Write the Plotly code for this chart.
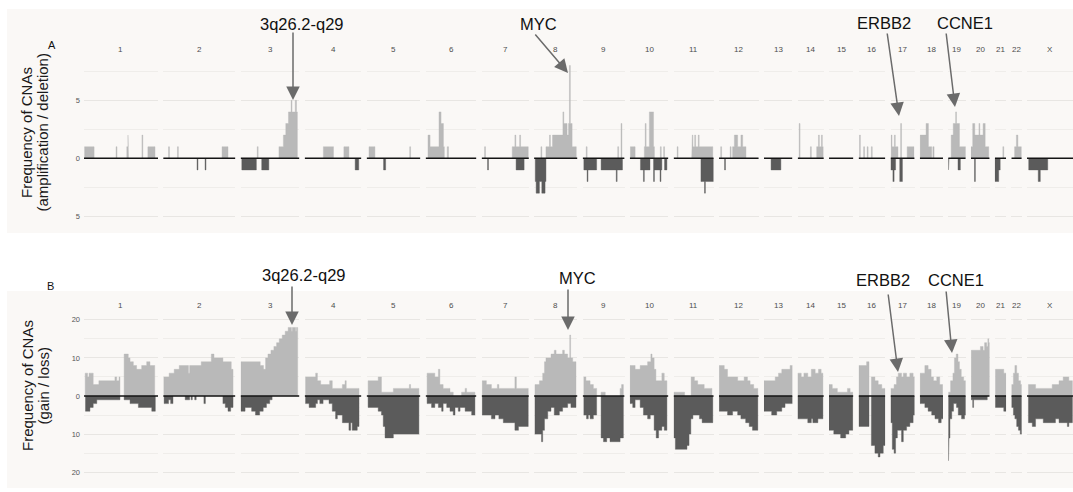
import plotly.graph_objects as go

# ---------------------------------------------------------------- data
CHROMS = ["1", "2", "3", "4", "5", "6", "7", "8", "9", "10", "11", "12",
          "13", "14", "15", "16", "17", "18", "19", "20", "21", "22", "X"]
# plotted extent of every chromosome (Mb)
CHROM_START = [0, 0, 0, 0, 0, 0, 0, 0, 0, 0, 0, 0, 19, 19, 20, 0, 0, 0, 0, 0, 10, 16, 0]
CHROM_END = [249, 243, 198, 191, 181, 171, 159, 146, 141, 130, 135, 134,
             115, 107, 102, 90, 81, 78, 59, 63, 48, 51, 155]

# Panel A - number of cases with amplification / deletion (chrom, start Mb, end Mb, count)
AMPLIFICATIONS = [
    ("1", 2, 34, 1), ("1", 108, 111, 1), ("1", 144, 148, 1), ("1", 148, 150, 2),
    ("1", 195, 198, 2), ("1", 215, 239, 1),
    ("2", 18, 21, 1), ("2", 48, 51, 1), ("2", 198, 218, 1),
    ("3", 56, 59, 1), ("3", 129, 144, 1), ("3", 144, 152, 2), ("3", 152, 161, 3),
    ("3", 161, 170, 4), ("3", 170, 173, 5), ("3", 173, 184, 4), ("3", 184, 188, 5),
    ("3", 188, 191, 4),
    ("4", 63, 97, 1), ("4", 132, 149, 1),
    ("5", 8, 28, 1), ("5", 145, 148, 1),
    ("6", 8, 15, 2), ("6", 15, 45, 1), ("6", 45, 52, 4), ("6", 52, 60, 3),
    ("6", 60, 63, 1), ("6", 73, 77, 1),
    ("7", 10, 13, 1), ("7", 103, 112, 1), ("7", 112, 115, 2), ("7", 115, 128, 1),
    ("7", 128, 131, 2), ("7", 131, 157, 1),
    ("8", 23, 26, 1), ("8", 40, 52, 1), ("8", 52, 55, 2), ("8", 55, 62, 1),
    ("8", 62, 97, 2), ("8", 97, 100, 4), ("8", 100, 111, 3), ("8", 111, 116, 2),
    ("8", 116, 119, 3), ("8", 119, 122, 8), ("8", 122, 128, 3), ("8", 128, 142, 1),
    ("9", 12, 15, 1), ("9", 118, 121, 1), ("9", 129, 132, 3),
    ("10", 2, 18, 1), ("10", 49, 52, 1), ("10", 52, 55, 3), ("10", 55, 66, 1),
    ("10", 66, 80, 4), ("10", 80, 83, 1), ("10", 103, 106, 1), ("10", 114, 117, 1),
    ("11", 12, 15, 1), ("11", 61, 63, 1), ("11", 63, 65, 2), ("11", 65, 71, 1),
    ("11", 71, 74, 2), ("11", 74, 83, 1), ("11", 83, 86, 2), ("11", 86, 132, 1),
    ("12", 6, 9, 1), ("12", 38, 41, 1), ("12", 46, 52, 1), ("12", 52, 63, 2),
    ("12", 63, 74, 1), ("12", 74, 80, 2), ("12", 80, 91, 1),
    ("14", 24, 27, 3), ("14", 62, 65, 1), ("14", 83, 89, 1), ("14", 89, 92, 2),
    ("14", 92, 99, 1), ("14", 99, 102, 2), ("14", 102, 105, 1),
    ("16", 3, 6, 2), ("16", 17, 20, 1), ("16", 29, 32, 1), ("16", 43, 46, 1),
    ("17", 2, 5, 2), ("17", 5, 13, 1), ("17", 13, 16, 2), ("17", 16, 25, 1),
    ("17", 34, 37, 3), ("17", 56, 79, 1),
    ("18", 1, 21, 2), ("18", 21, 29, 3), ("18", 29, 40, 1), ("18", 44, 48, 1),
    ("19", 10, 17, 2), ("19", 17, 25, 3), ("19", 25, 28, 4), ("19", 28, 38, 3),
    ("19", 38, 59, 1),
    ("20", 0, 6, 1), ("20", 6, 13, 3), ("20", 13, 27, 2), ("20", 27, 30, 3),
    ("20", 30, 41, 2), ("20", 41, 48, 3), ("20", 48, 60, 1),
    ("21", 37, 40, 1),
    ("22", 27, 33, 1), ("22", 33, 38, 2), ("22", 38, 50, 1),
]
DELETIONS = [
    ("2", 114, 117, 1), ("2", 141, 144, 1),
    ("3", 4, 53, 1), ("3", 71, 95, 1),
    ("4", 170, 182, 1),
    ("5", 57, 64, 1),
    ("7", 20, 23, 1), ("7", 116, 143, 1),
    ("8", 4, 7, 2), ("8", 7, 18, 3), ("8", 18, 26, 2), ("8", 26, 37, 3), ("8", 37, 40, 2),
    ("9", 4, 15, 1), ("9", 15, 18, 2), ("9", 18, 47, 1), ("9", 62, 113, 1),
    ("9", 113, 116, 2), ("9", 116, 134, 1),
    ("10", 36, 46, 1), ("10", 46, 49, 2), ("10", 49, 68, 1), ("10", 80, 83, 2),
    ("10", 83, 102, 1), ("10", 102, 105, 2), ("10", 105, 108, 1), ("10", 117, 125, 1),
    ("11", 92, 104, 2), ("11", 104, 107, 3), ("11", 107, 134, 2),
    ("12", 19, 22, 1),
    ("13", 43, 76, 1),
    ("17", 1, 8, 1), ("17", 8, 12, 2), ("17", 12, 17, 1), ("17", 31, 40, 2),
    ("19", 1, 3, 1), ("19", 33, 41, 1),
    ("20", 12, 15, 2),
    ("21", 10, 23, 2), ("21", 23, 28, 1),
    ("X", 6, 38, 1), ("X", 38, 45, 2), ("X", 45, 70, 1),
]

# Panel B - number of cases with copy-number gain / loss (chrom, start Mb, end Mb, count)
GAINS = [
    ("1", 4, 12, 6), ("1", 12, 17, 5), ("1", 17, 31, 6), ("1", 31, 50, 3), ("1", 50, 104, 4),
    ("1", 104, 110, 5), ("1", 110, 118, 4), ("1", 118, 121, 5), ("1", 135, 149, 11),
    ("1", 149, 155, 10), ("1", 155, 166, 9), ("1", 166, 177, 8), ("1", 177, 194, 7),
    ("1", 194, 211, 8), ("1", 211, 222, 9), ("1", 222, 238, 8),
    ("2", 2, 20, 5), ("2", 20, 37, 6), ("2", 37, 54, 7), ("2", 54, 85, 8), ("2", 85, 89, 6),
    ("2", 89, 128, 8), ("2", 128, 162, 9), ("2", 162, 171, 11), ("2", 171, 201, 10),
    ("2", 201, 229, 9), ("2", 229, 235, 7),
    ("3", 1, 66, 9), ("3", 66, 77, 8), ("3", 77, 84, 7), ("3", 84, 92, 10), ("3", 92, 102, 11),
    ("3", 102, 112, 12), ("3", 112, 121, 13), ("3", 121, 130, 14), ("3", 130, 140, 15),
    ("3", 140, 150, 16), ("3", 150, 160, 17), ("3", 160, 171, 18), ("3", 171, 174, 17),
    ("3", 174, 185, 18), ("3", 185, 188, 17), ("3", 188, 192, 18),
    ("4", 3, 37, 5), ("4", 37, 43, 6), ("4", 43, 54, 4), ("4", 54, 84, 3), ("4", 84, 93, 4),
    ("4", 93, 127, 2), ("4", 127, 136, 3), ("4", 136, 140, 4), ("4", 140, 183, 2),
    ("5", 5, 39, 4), ("5", 39, 50, 5), ("5", 50, 90, 1), ("5", 90, 144, 2), ("5", 144, 148, 3),
    ("5", 148, 176, 2),
    ("6", 5, 31, 6), ("6", 31, 43, 5), ("6", 43, 48, 7), ("6", 48, 59, 3), ("6", 59, 82, 2),
    ("6", 82, 93, 1), ("6", 121, 133, 1), ("6", 133, 138, 2), ("6", 138, 166, 1),
    ("7", 2, 16, 4), ("7", 16, 33, 3), ("7", 33, 53, 2), ("7", 53, 58, 3), ("7", 58, 112, 2),
    ("7", 112, 117, 5), ("7", 117, 157, 2),
    ("8", 3, 18, 3), ("8", 18, 29, 4), ("8", 29, 35, 6), ("8", 35, 40, 9), ("8", 40, 57, 10),
    ("8", 57, 68, 11), ("8", 68, 74, 12), ("8", 74, 96, 11), ("8", 96, 102, 12),
    ("8", 102, 113, 11), ("8", 113, 120, 10), ("8", 120, 123, 16), ("8", 123, 130, 10),
    ("8", 130, 141, 9),
    ("9", 4, 11, 5), ("9", 11, 25, 4), ("9", 25, 36, 3), ("9", 36, 47, 2), ("9", 62, 76, 1),
    ("9", 126, 131, 2), ("9", 131, 137, 3),
    ("10", 1, 18, 8), ("10", 18, 35, 7), ("10", 35, 60, 8), ("10", 60, 71, 9), ("10", 71, 75, 11),
    ("10", 75, 82, 10), ("10", 82, 88, 7), ("10", 88, 108, 4), ("10", 108, 116, 6),
    ("10", 116, 125, 4),
    ("11", 1, 37, 1), ("11", 59, 70, 5), ("11", 70, 81, 4), ("11", 81, 103, 3), ("11", 103, 129, 2),
    ("12", 1, 18, 8), ("12", 18, 29, 7), ("12", 29, 63, 5), ("12", 63, 85, 4), ("12", 85, 96, 5),
    ("12", 96, 105, 4), ("12", 105, 117, 3), ("12", 117, 131, 2),
    ("13", 19, 57, 4), ("13", 57, 68, 5), ("13", 68, 79, 6), ("13", 79, 107, 7), ("13", 107, 115, 8),
    ("14", 19, 31, 6), ("14", 31, 40, 5), ("14", 40, 53, 6), ("14", 53, 65, 5), ("14", 65, 78, 7),
    ("14", 78, 89, 6), ("14", 89, 98, 7), ("14", 98, 104, 6),
    ("15", 20, 31, 3), ("15", 31, 48, 2), ("15", 48, 82, 1), ("15", 82, 91, 2), ("15", 91, 100, 1),
    ("16", 1, 27, 8), ("16", 27, 35, 9), ("16", 43, 55, 5), ("16", 55, 66, 4), ("16", 66, 78, 3),
    ("16", 78, 89, 2),
    ("17", 1, 12, 2), ("17", 12, 20, 3), ("17", 20, 26, 5), ("17", 26, 37, 6), ("17", 37, 43, 5),
    ("17", 43, 54, 6), ("17", 54, 65, 5), ("17", 65, 76, 6), ("17", 76, 81, 5),
    ("18", 1, 17, 6), ("18", 17, 28, 8), ("18", 28, 38, 7), ("18", 38, 46, 5), ("18", 46, 57, 4),
    ("18", 57, 67, 5), ("18", 67, 77, 3),
    ("19", 1, 8, 1), ("19", 8, 16, 4), ("19", 16, 21, 6), ("19", 21, 27, 10), ("19", 27, 33, 11),
    ("19", 33, 38, 9), ("19", 38, 44, 7), ("19", 44, 52, 5), ("19", 52, 59, 4),
    ("20", 1, 32, 12), ("20", 32, 41, 13), ("20", 41, 46, 12), ("20", 46, 53, 14),
    ("20", 53, 57, 13), ("20", 57, 60, 15), ("20", 60, 63, 14),
    ("21", 12, 40, 7), ("21", 40, 48, 6),
    ("22", 17, 23, 3), ("22", 23, 28, 6), ("22", 28, 34, 8), ("22", 34, 40, 6), ("22", 40, 47, 4),
    ("22", 47, 51, 3),
    ("X", 5, 29, 3), ("X", 29, 85, 2), ("X", 85, 108, 3), ("X", 108, 122, 4), ("X", 122, 141, 5),
    ("X", 141, 153, 4),
]
LOSSES = [
    ("1", 5, 20, 4), ("1", 20, 31, 3), ("1", 31, 43, 2), ("1", 43, 121, 1), ("1", 135, 155, 1),
    ("1", 155, 183, 2), ("1", 183, 228, 3), ("1", 228, 240, 4),
    ("2", 3, 18, 2), ("2", 18, 25, 1), ("2", 25, 33, 2), ("2", 74, 89, 1), ("2", 94, 98, 1),
    ("2", 106, 111, 1), ("2", 137, 142, 2), ("2", 201, 209, 2), ("2", 209, 218, 3),
    ("2", 218, 227, 4), ("2", 227, 235, 3),
    ("3", 1, 15, 4), ("3", 15, 37, 3), ("3", 37, 50, 4), ("3", 50, 64, 5), ("3", 64, 76, 4),
    ("3", 76, 87, 3), ("3", 87, 98, 2), ("3", 98, 106, 1),
    ("4", 3, 15, 2), ("4", 15, 37, 3), ("4", 37, 43, 2), ("4", 43, 51, 1), ("4", 51, 62, 2),
    ("4", 62, 82, 1), ("4", 82, 93, 2), ("4", 93, 104, 4), ("4", 104, 110, 6), ("4", 110, 127, 5),
    ("4", 127, 149, 7), ("4", 149, 155, 9), ("4", 155, 160, 7), ("4", 160, 177, 9),
    ("4", 177, 183, 8),
    ("5", 5, 39, 3), ("5", 39, 50, 4), ("5", 50, 56, 5), ("5", 56, 62, 8), ("5", 62, 90, 11),
    ("5", 90, 176, 10),
    ("6", 5, 20, 2), ("6", 20, 31, 3), ("6", 31, 43, 2), ("6", 43, 54, 3), ("6", 54, 59, 4),
    ("6", 59, 71, 2), ("6", 71, 82, 3), ("6", 82, 93, 4), ("6", 93, 99, 5), ("6", 99, 110, 3),
    ("6", 110, 116, 4), ("6", 116, 133, 3), ("6", 133, 155, 4), ("6", 155, 166, 5),
    ("7", 2, 33, 5), ("7", 33, 45, 6), ("7", 45, 58, 5), ("7", 58, 73, 6), ("7", 73, 112, 7),
    ("7", 112, 124, 9), ("7", 124, 157, 8),
    ("8", 3, 25, 10), ("8", 25, 29, 12), ("8", 29, 35, 9), ("8", 35, 46, 6), ("8", 46, 57, 4),
    ("8", 57, 68, 3), ("8", 68, 85, 5), ("8", 85, 96, 4), ("8", 96, 113, 3), ("8", 113, 124, 2),
    ("8", 124, 141, 3),
    ("9", 4, 13, 5), ("9", 13, 19, 6), ("9", 19, 25, 5), ("9", 25, 36, 6), ("9", 36, 47, 5),
    ("9", 62, 70, 11), ("9", 70, 81, 12), ("9", 81, 92, 11), ("9", 92, 126, 12),
    ("9", 126, 137, 11),
    ("10", 1, 10, 2), ("10", 10, 18, 3), ("10", 18, 35, 1), ("10", 35, 46, 3), ("10", 46, 60, 5),
    ("10", 60, 69, 6), ("10", 69, 82, 5), ("10", 82, 89, 9), ("10", 89, 97, 11),
    ("10", 97, 108, 9), ("10", 108, 116, 8), ("10", 116, 125, 9),
    ("11", 1, 6, 11), ("11", 6, 45, 14), ("11", 45, 52, 13), ("11", 52, 58, 10), ("11", 58, 65, 6),
    ("11", 65, 87, 5), ("11", 87, 96, 6), ("11", 96, 132, 7),
    ("12", 1, 29, 4), ("12", 29, 46, 5), ("12", 46, 63, 4), ("12", 63, 74, 5), ("12", 74, 90, 6),
    ("12", 90, 102, 7), ("12", 102, 113, 8), ("12", 113, 131, 9),
    ("13", 19, 45, 4), ("13", 45, 62, 5), ("13", 62, 79, 4), ("13", 79, 90, 3), ("13", 90, 115, 2),
    ("14", 19, 53, 6), ("14", 53, 65, 7), ("14", 65, 70, 6), ("14", 70, 87, 7), ("14", 87, 104, 6),
    ("15", 20, 36, 9), ("15", 36, 59, 10), ("15", 59, 76, 11), ("15", 76, 87, 10),
    ("15", 87, 100, 9),
    ("16", 1, 35, 8), ("16", 43, 55, 13), ("16", 55, 66, 15), ("16", 66, 72, 16),
    ("16", 72, 83, 15), ("16", 83, 89, 13),
    ("17", 1, 6, 7), ("17", 6, 12, 14), ("17", 12, 17, 15), ("17", 17, 23, 11), ("17", 23, 37, 9),
    ("17", 37, 43, 12), ("17", 43, 54, 9), ("17", 54, 65, 8), ("17", 65, 76, 7), ("17", 76, 81, 5),
    ("18", 1, 17, 2), ("18", 17, 28, 3), ("18", 28, 40, 4), ("18", 40, 51, 5), ("18", 51, 63, 6),
    ("18", 63, 72, 7), ("18", 72, 78, 6),
    ("19", 1, 3, 17), ("19", 3, 6, 11), ("19", 6, 12, 6), ("19", 12, 18, 4), ("19", 18, 28, 2),
    ("19", 28, 34, 3), ("19", 34, 45, 5), ("19", 45, 55, 6), ("19", 55, 59, 5),
    ("20", 1, 6, 1), ("20", 6, 9, 3), ("20", 9, 55, 1),
    ("21", 12, 40, 3), ("21", 40, 48, 4),
    ("22", 17, 23, 3), ("22", 23, 28, 5), ("22", 28, 34, 6), ("22", 34, 40, 8), ("22", 40, 46, 9),
    ("22", 46, 51, 10),
    ("X", 5, 18, 7), ("X", 18, 29, 8), ("X", 29, 55, 6), ("X", 55, 96, 7), ("X", 96, 108, 6),
    ("X", 108, 136, 7), ("X", 136, 141, 8), ("X", 141, 153, 7),
]

PANEL_LETTERS = ["A", "B"]
PANEL_TITLES = [("Frequency of CNAs", "(amplification / deletion)"),
                ("Frequency of CNAs", "(gain / loss)")]
Y_TICKS = [[-5, 0, 5], [-20, -10, 0, 10, 20]]
Y_TICK_TEXT = [["5", "0", "5"], ["20", "10", "0", "10", "20"]]
Y_MINOR = [[-2.5, 2.5, 7.5], [-15, -5, 5, 15]]
GENE_LABELS = ["3q26.2-q29", "MYC", "ERBB2", "CCNE1"]

# ---------------------------------------------------------------- styling / geometry
W, H = 1073, 492
FONT = "Liberation Sans, Arial, Helvetica, sans-serif"
BG = "#faf8f6"
GAIN_COLOR = "#b9b9b9"
LOSS_COLOR = "#5b5b5b"
GRID = "#e8e6e3"
GRID_MINOR = "#efedea"
ARROW = "#6b6b6b"

X_LEFT, X_RIGHT, GAP = 84, 1073, 5.2
# per panel: y-range and pixel rows of the plotting area
Y_RANGE = [(-5.6, 8.5), (-22, 22)]
Y_PIX = [(223.3, 59.7), (479.8, 312.2)]       # (bottom, top)
STRIP_Y = [50, 305]
PANEL_BG = [(7, 9, 1073, 233), (7, 291, 1073, 488)]


def px(x):
    return x / W


def py(y):
    return 1 - y / H


def step_outline(rows, sign):
    """Outline of contiguous runs of (start, end, value) segments as closed step shapes."""
    rows = sorted(rows, key=lambda r: r[1])
    xs, ys = [], []
    prev_end = None
    for _, s, e, v in rows:
        if prev_end is None or abs(s - prev_end) > 1e-9:
            if prev_end is not None:
                xs += [prev_end, None]
                ys += [0, None]
            xs.append(s)
            ys.append(0)
        xs += [s, e]
        ys += [sign * v, sign * v]
        prev_end = e
    xs.append(prev_end)
    ys.append(0)
    return xs, ys


spans = [e - s for s, e in zip(CHROM_START, CHROM_END)]
scale = (X_RIGHT - X_LEFT - GAP * (len(CHROMS) - 1)) / sum(spans)
x_domains = []
left = X_LEFT
for sp in spans:
    w = sp * scale
    x_domains.append((px(left), px(left + w)))
    left += w + GAP

fig = go.Figure()
layout = {}
annotations = []
shapes = []

for x0, y0, x1, y1 in PANEL_BG:
    shapes.append(dict(type="rect", xref="paper", yref="paper", layer="below",
                       x0=px(x0), x1=px(x1), y0=py(y1), y1=py(y0),
                       fillcolor=BG, line=dict(width=0)))

panel_series = [(AMPLIFICATIONS, DELETIONS), (GAINS, LOSSES)]

for p in range(2):
    up_segs, down_segs = panel_series[p]
    for i, chrom in enumerate(CHROMS):
        n = p * len(CHROMS) + i + 1
        sfx = "" if n == 1 else str(n)
        xa, ya = "x" + sfx, "y" + sfx

        layout["xaxis" + sfx] = dict(
            domain=list(x_domains[i]), anchor=ya,
            range=[CHROM_START[i], CHROM_END[i]],
            showgrid=False, zeroline=False, showticklabels=False, ticks="",
            showline=False, fixedrange=True)
        layout["yaxis" + sfx] = dict(
            domain=[py(Y_PIX[p][0]), py(Y_PIX[p][1])], anchor=xa,
            range=list(Y_RANGE[p]),
            tickmode="array", tickvals=Y_TICKS[p], ticktext=Y_TICK_TEXT[p],
            showticklabels=(i == 0), ticks="", ticklabelstandoff=3,
            tickfont=dict(family=FONT, size=7.5, color="#555555"),
            showgrid=True, gridcolor=GRID, gridwidth=1,
            minor=dict(tickmode="array", tickvals=Y_MINOR[p], showgrid=True,
                       gridcolor=GRID_MINOR, gridwidth=1, ticks=""),
            zeroline=False, showline=False, fixedrange=True)

        # frequency histogram: gains above, losses below the baseline
        for segs, sign, color in ((up_segs, 1, GAIN_COLOR), (down_segs, -1, LOSS_COLOR)):
            rows = [s for s in segs if s[0] == chrom]
            if not rows:
                continue
            xs, ys = step_outline(rows, sign)
            fig.add_trace(go.Scatter(
                x=xs, y=ys, mode="lines", fill="toself", fillcolor=color,
                line=dict(color=color, width=0.4), connectgaps=False,
                xaxis=xa, yaxis=ya, showlegend=False, hoverinfo="skip"))

        # black baseline of the facet
        fig.add_trace(go.Scatter(
            x=[CHROM_START[i], CHROM_END[i]], y=[0, 0], mode="lines",
            line=dict(color="#141414", width=1.6), xaxis=xa, yaxis=ya,
            showlegend=False, hoverinfo="skip"))

        # chromosome strip label
        annotations.append(dict(
            text=chrom, xref=xa + " domain", x=0.5, yref="paper", y=py(STRIP_Y[p]),
            showarrow=False, xanchor="center", yanchor="middle",
            font=dict(family=FONT, size=8, color="#4d4d4d")))

# panel letters
for letter, (lx, ly) in zip(PANEL_LETTERS, [(52, 45), (50, 286)]):
    annotations.append(dict(text=letter, xref="paper", yref="paper", x=px(lx), y=py(ly),
                            showarrow=False, xanchor="center", yanchor="middle",
                            font=dict(family=FONT, size=11, color="#111111")))

# y-axis titles, one annotation per line
for (line1, line2), cy in zip(PANEL_TITLES, [133, 386]):
    for txt, cx in ((line1, 27), (line2, 42.5)):
        annotations.append(dict(text=txt, xref="paper", yref="paper", x=px(cx), y=py(cy),
                                textangle=-90, showarrow=False,
                                xanchor="center", yanchor="middle",
                                font=dict(family=FONT, size=15, color="#1a1a1a")))

# gene labels with arrows (label centre, arrow tail, arrow tip in pixels)
callouts = [
    (GENE_LABELS[0], (302, 24), (293, 31), (293, 100)),
    (GENE_LABELS[1], (538, 24), (534, 33), (568, 73)),
    (GENE_LABELS[2], (884, 23), (887, 32), (899, 116)),
    (GENE_LABELS[3], (965, 23), (946, 32), (955, 107)),
    (GENE_LABELS[0], (304, 275), (292, 285), (292, 325)),
    (GENE_LABELS[1], (577, 278), (568, 288), (568, 330)),
    (GENE_LABELS[2], (883, 280), (888, 293), (898, 372)),
    (GENE_LABELS[3], (956, 280), (946, 290), (952, 353)),
]
for label, (tx, ty), (ax0, ay0), (hx, hy) in callouts:
    annotations.append(dict(text=label, xref="paper", yref="paper", x=px(tx), y=py(ty),
                            showarrow=False, xanchor="center", yanchor="middle",
                            font=dict(family=FONT, size=16.5, color="#111111")))
    annotations.append(dict(text="", xref="paper", yref="paper", x=px(hx), y=py(hy),
                            showarrow=True, ax=ax0 - hx, ay=ay0 - hy,
                            arrowhead=2, arrowsize=1.8, arrowwidth=1.5,
                            arrowcolor=ARROW, standoff=0))

fig.update_layout(
    width=W, height=H, margin=dict(l=0, r=0, t=0, b=0),
    paper_bgcolor="white", plot_bgcolor="rgba(0,0,0,0)",
    showlegend=False,
    annotations=annotations, shapes=shapes, **layout)

fig.write_html("out.html")
